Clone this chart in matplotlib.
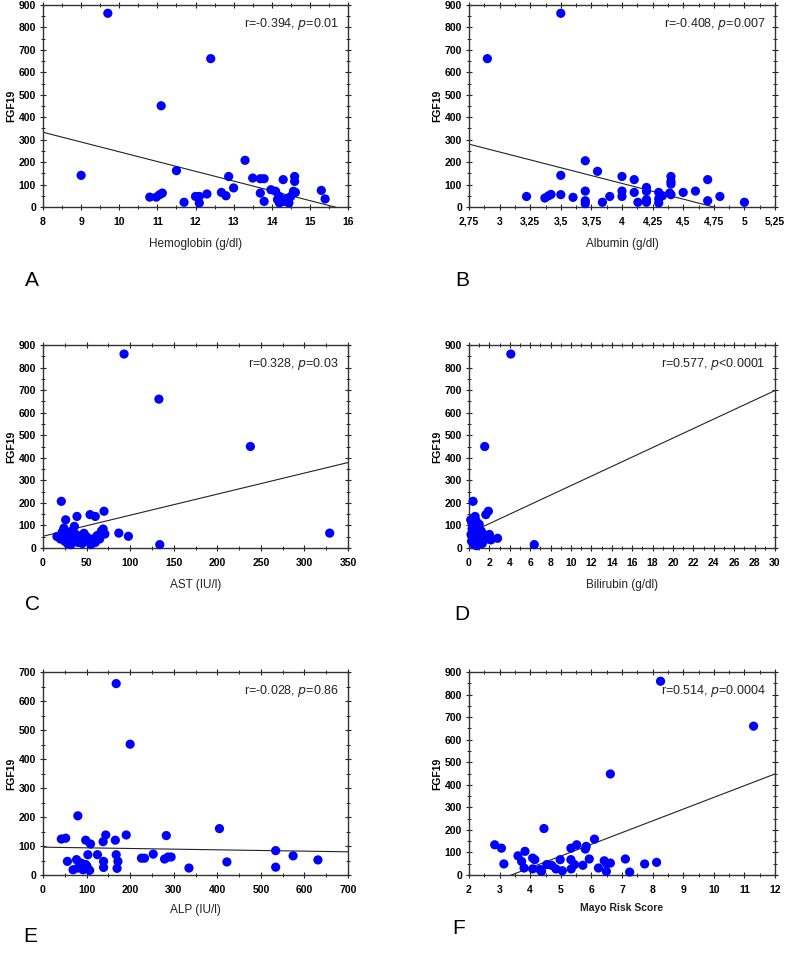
import numpy as np
import matplotlib
matplotlib.use('Agg')
import matplotlib.pyplot as plt
from matplotlib.ticker import AutoMinorLocator

plt.rcParams['font.family'] = ['Liberation Sans', 'DejaVu Sans']

# ---- data ----
hb_x = [9.7, 9.0, 12.4, 11.1, 11.5, 13.3, 10.8, 10.97, 11.06, 11.13, 11.7, 12.0, 12.1, 12.1, 12.3,
        12.68, 12.8, 12.87, 13.0, 13.5, 13.7, 13.8, 13.7, 13.8, 13.98, 14.1, 14.15, 14.2, 14.3,
        14.33, 14.4, 14.45, 14.5, 14.57, 14.6, 14.6, 14.62, 15.3, 15.4, 14.2]
hb_y = [863, 141, 661, 451, 162, 208, 44, 44, 55, 62, 21, 47, 47, 18, 58,
        65, 50, 136, 85, 129, 126, 126, 62, 25, 77, 70, 33, 18, 122,
        25, 36, 18, 47, 70, 136, 114, 65, 74, 36, 47]
hb_fit = (681, -43.5)

alb_x = [2.9, 3.5, 3.5, 3.5, 3.22, 3.37, 3.40, 3.42, 3.6, 3.7, 3.7, 3.7, 3.7, 3.8, 3.84, 3.9,
         4.0, 4.0, 4.0, 4.1, 4.1, 4.13, 4.2, 4.2, 4.2, 4.2, 4.3, 4.3, 4.3, 4.33, 4.4, 4.4, 4.4,
         4.39, 4.4, 4.5, 4.6, 4.7, 4.7, 4.8, 5.0]
alb_y = [661, 863, 141, 55, 47, 40, 50, 56, 43, 206, 71, 28, 15, 159, 21, 47,
         136, 71, 47, 122, 65, 21, 87, 70, 33, 21, 65, 36, 18, 50, 136, 114, 102,
         62, 55, 65, 71, 122, 28, 47, 21]
alb_fit = (665, -140)

ast_x = [93, 133, 238, 329, 134, 87, 98, 21, 26, 39, 70, 54, 60, 69, 71, 36,
         16, 20, 22, 25, 27, 28, 30, 32, 33, 35, 38, 40, 42, 45, 47, 50, 52, 55, 57,
         60, 62, 65, 67, 24, 31]
ast_y = [860, 660, 450, 66, 15, 66, 52, 207, 125, 140, 163, 148, 140, 84, 62, 96,
         51, 40, 70, 30, 55, 20, 45, 15, 75, 35, 60, 25, 45, 20, 65, 50, 30, 15, 40,
         25, 55, 40, 75, 88, 60]
ast_fit = (52, 0.934)

bil_x = [4.1, 1.54, 6.4, 0.4, 1.9, 1.65, 0.6, 0.17, 2.8, 2.15, 0.8,
         0.2, 0.3, 0.4, 0.5, 0.6, 0.7, 0.8, 0.9, 1.0, 1.1, 1.2, 1.3, 1.4, 1.6, 0.3,
         0.5, 0.7, 0.9, 1.1, 1.3, 0.25, 0.45, 0.65, 2.0, 1.8, 0.35, 0.55, 1.0, 0.75]
bil_y = [860, 450, 15, 207, 163, 148, 140, 125, 43, 36, 22,
         60, 85, 40, 70, 25, 55, 95, 30, 65, 45, 75, 20, 60, 50, 110,
         15, 120, 80, 35, 65, 30, 100, 50, 60, 40, 75, 20, 105, 10]
bil_fit = (66, 21.07)

alp_x = [168, 200, 80, 42, 52, 405, 283, 191, 144, 138, 166, 98, 109, 103, 125, 168, 172,
         170, 139, 139, 56, 77, 88, 80, 69, 92, 101, 107, 98, 226, 233, 253, 279, 287,
         294, 335, 422, 534, 534, 574, 631]
alp_y = [660, 451, 204, 124, 127, 160, 136, 138, 138, 115, 120, 120, 107, 70, 70, 70, 47,
         23, 47, 26, 47, 53, 41, 24, 18, 18, 30, 16, 36, 58, 58, 72, 55, 62,
         62, 24, 45, 84, 27, 66, 52]
alp_fit = (96, -0.0229)

mayo_x = [8.26, 11.3, 6.62, 4.45, 2.84, 3.06, 3.14, 6.1, 5.83, 5.52, 5.33, 5.8, 3.83, 3.6,
          3.72, 3.8, 4.08, 4.15, 4.08, 4.32, 4.37, 4.54, 4.7, 4.84, 4.98, 5.05, 5.33, 5.34,
          5.45, 5.72, 5.93, 6.23, 6.42, 6.5, 6.49, 6.62, 7.11, 7.25, 7.74, 8.13]
mayo_y = [859, 660, 448, 206, 134, 119, 49, 159, 127, 134, 119, 115, 105, 85,
          60, 31, 75, 68, 27, 24, 16, 46, 43, 27, 68, 19, 68, 27,
          46, 43, 71, 31, 63, 50, 16, 53, 71, 13, 49, 56]
mayo_fit = (-176, 52.0)

alb_ticks = [2.75, 3, 3.25, 3.5, 3.75, 4, 4.25, 4.5, 4.75, 5, 5.25]
alb_ticklabels = ['2,75', '3', '3,25', '3,5', '3,75', '4', '4,25', '4,5', '4,75', '5', '5,25']

panels = [
    dict(x=hb_x, y=hb_y, fit=hb_fit, xlim=(8, 16), xticks=np.arange(8, 17, 1), ylim=(0, 900),
         yticks=np.arange(0, 901, 100), xlabel='Hemoglobin (g/dl)', r='-0.394', p='=0.01', letter='A'),
    dict(x=alb_x, y=alb_y, fit=alb_fit, xlim=(2.75, 5.25), xticks=alb_ticks, xticklabels=alb_ticklabels,
         ylim=(0, 900), yticks=np.arange(0, 901, 100), xlabel='Albumin (g/dl)', r='-0.408', p='=0.007',
         letter='B'),
    dict(x=ast_x, y=ast_y, fit=ast_fit, xlim=(0, 350), xticks=np.arange(0, 351, 50), ylim=(0, 900),
         yticks=np.arange(0, 901, 100), xlabel='AST (IU/l)', r='0.328', p='=0.03', letter='C'),
    dict(x=bil_x, y=bil_y, fit=bil_fit, xlim=(0, 30), xticks=np.arange(0, 31, 2), ylim=(0, 900),
         yticks=np.arange(0, 901, 100), xlabel='Bilirubin (g/dl)', r='0.577', p='<0.0001', letter='D'),
    dict(x=alp_x, y=alp_y, fit=alp_fit, xlim=(0, 700), xticks=np.arange(0, 701, 100), ylim=(0, 700),
         yticks=np.arange(0, 701, 100), xlabel='ALP (IU/l)', r='-0.028', p='=0.86', letter='E'),
    dict(x=mayo_x, y=mayo_y, fit=mayo_fit, xlim=(2, 12), xticks=np.arange(2, 13, 1), ylim=(0, 900),
         yticks=np.arange(0, 901, 100), xlabel='Mayo Risk Score', r='0.514', p='=0.0004', letter='F',
         boldlabel=True),
]

# pixel boxes (left, right, top, bottom)
boxes = [(43, 348, 5, 207), (469, 775, 5, 207),
         (43, 348, 345, 548), (469, 775, 345, 548),
         (43, 348, 672, 875), (469, 775, 672, 875)]
letter_pos = [(32, 280), (462, 280), (32, 605), (462, 615), (30, 937), (459, 928)]
xlabel_y = [244, 244, 585, 585, 910, 908]

W, H = 787, 975
fig = plt.figure(figsize=(W / 100, H / 100), dpi=100)

for pnl, (l, r, t, b), (lx, ly), xly in zip(panels, boxes, letter_pos, xlabel_y):
    ax = fig.add_axes([l / W, 1 - b / H, (r - l) / W, (b - t) / H])
    xx = np.array(pnl['xlim'])
    a, s = pnl['fit']
    ax.plot(xx, a + s * xx, color='#222222', lw=0.8, zorder=2)
    ax.scatter(pnl['x'], pnl['y'], s=44, color='#0000ff', edgecolors='none', zorder=3, clip_on=False)
    ax.set_xlim(pnl['xlim'])
    ax.set_ylim(pnl['ylim'])
    ax.set_xticks(pnl['xticks'])
    if 'xticklabels' in pnl:
        ax.set_xticklabels(pnl['xticklabels'])
    ax.set_yticks(pnl['yticks'])
    ax.xaxis.set_minor_locator(AutoMinorLocator(2))
    ax.yaxis.set_minor_locator(AutoMinorLocator(2))
    ax.tick_params(which='major', direction='inout', length=4, width=0.8, labelsize=7.5,
                   top=True, right=True, pad=3, colors='#222222', labelcolor='black')
    ax.tick_params(which='minor', direction='inout', length=2.5, width=0.7,
                   top=True, right=True, colors='#222222')
    ax.tick_params(axis='x', which='major', pad=5)
    for lab in ax.get_xticklabels() + ax.get_yticklabels():
        lab.set_fontweight('bold')
    for sp in ax.spines.values():
        sp.set_linewidth(1.0)
        sp.set_color('#333333')
    ax.set_ylabel('FGF19', fontsize=7.5, fontweight='bold', labelpad=2)
    ax.text(0.97, 0.905, 'r=' + pnl['r'] + ', $\\it{p}$' + pnl['p'], transform=ax.transAxes,
            ha='right', va='center', fontsize=9, color='#222222')
    bold = pnl.get('boldlabel', False)
    fig.text((l + r) / 2 / W, 1 - xly / H, pnl['xlabel'], ha='center', va='center',
             fontsize=7.5 if bold else 8.5, fontweight='bold' if bold else 'normal', color='#222222')
    fig.text(lx / W, 1 - ly / H, pnl['letter'], ha='center', va='center', fontsize=15, color='black')

fig.savefig('out.png', dpi=100)
